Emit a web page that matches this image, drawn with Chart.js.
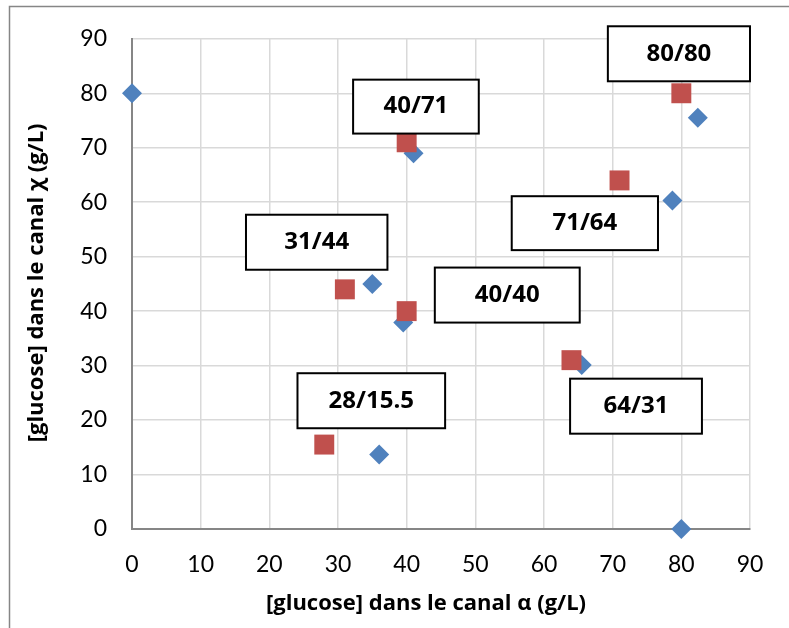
<!DOCTYPE html>
<html>
<head>
<meta charset="utf-8">
<script src="https://cdn.jsdelivr.net/npm/chart.js@4.4.1/dist/chart.umd.min.js"></script>
<style>
  body { margin: 0; background: #fff; }
  canvas { display: block; }
</style>
</head>
<body>
<canvas id="glucoseChart" width="789" height="628"></canvas>
<script>
// DATA
// blue diamonds (measured)
const alphaMeasured = [0, 41, 35, 39.5, 36, 65.5, 78.7, 82.4, 80];
const chiMeasured = [80, 69, 45, 37.9, 13.7, 30.1, 60.3, 75.5, 0];

// red squares (targets)
const alphaTarget = [40, 31, 40, 28, 64, 71, 80];
const chiTarget = [71, 44, 40, 15.5, 31, 64, 80];
const pointLabels = ['40/71', '31/44', '40/40', '28/15.5', '64/31', '71/64', '80/80'];

// axis ticks
const axisMin = 0;
const axisMax = 90;
const axisStep = 10;

// axis titles
const xTitle = '[glucose] dans le canal α (g/L)';
const yTitle = '[glucose] dans le canal χ (g/L)';

// label box extents in data units: [x left, x right, y top, y bottom]
const labelBoxes = [
    [32.2, 50.5, 82.5, 72.6],
    [16.6, 37.2, 57.7, 47.6],
    [44.1, 65.2, 48.0, 37.9],
    [24.1, 45.6, 28.6, 18.5],
    [63.8, 83.0, 27.6, 17.5],
    [55.3, 76.6, 61.1, 51.2],
    [69.3, 90.0, 92.3, 82.2]
];

const boldFont = '"Open Sans", "DejaVu Sans", sans-serif';
const tickFont = 'Lato, "Open Sans", sans-serif';

function toPoints(xs, ys) {
    return xs.map((x, i) => ({ x: x, y: ys[i] }));
}

// white background + grey chart frame (cut by the right/bottom edges)
const framePlugin = {
    id: 'frame',
    beforeDraw(chart) {
        const ctx = chart.ctx;
        ctx.save();
        ctx.fillStyle = '#fff';
        ctx.fillRect(0, 0, chart.width, chart.height);
        ctx.strokeStyle = '#868686';
        ctx.lineWidth = 1.5;
        ctx.strokeRect(9.5, 6.5, chart.width + 20, chart.height + 20);
        ctx.restore();
    }
};

// axis titles (the x title sits a bit left of the plot centre, like Excel)
const titlePlugin = {
    id: 'axisTitles',
    afterDraw(chart) {
        const ctx = chart.ctx;
        const area = chart.chartArea;
        ctx.save();
        ctx.fillStyle = '#000';
        ctx.font = 'bold 22px ' + boldFont;
        ctx.textAlign = 'center';
        ctx.textBaseline = 'middle';
        ctx.fillText(xTitle, 426, 604);
        ctx.translate(37, (area.top + area.bottom) / 2 - 1);
        ctx.rotate(-Math.PI / 2);
        ctx.fillText(yTitle, 0, 0);
        ctx.restore();
    }
};

// boxed labels next to the red squares
const labelBoxPlugin = {
    id: 'labelBoxes',
    afterDatasetsDraw(chart) {
        const ctx = chart.ctx;
        const xs = chart.scales.x;
        const ys = chart.scales.y;
        ctx.save();
        pointLabels.forEach((txt, i) => {
            const b = labelBoxes[i];
            const left = xs.getPixelForValue(b[0]);
            const right = xs.getPixelForValue(b[1]);
            const top = ys.getPixelForValue(b[2]);
            const bottom = ys.getPixelForValue(b[3]);
            ctx.fillStyle = '#fff';
            ctx.fillRect(left, top, right - left, bottom - top);
            ctx.strokeStyle = '#000';
            ctx.lineWidth = 2;
            ctx.strokeRect(left, top, right - left, bottom - top);
            ctx.fillStyle = '#000';
            ctx.font = 'bold 24px ' + boldFont;
            ctx.textAlign = 'center';
            ctx.textBaseline = 'middle';
            ctx.fillText(txt, (left + right) / 2, (top + bottom) / 2);
        });
        ctx.restore();
    }
};

const ctx = document.getElementById('glucoseChart').getContext('2d');
new Chart(ctx, {
    type: 'scatter',
    data: {
        datasets: [
            {
                label: 'cible',
                data: toPoints(alphaTarget, chiTarget),
                pointStyle: 'rect',
                pointRadius: 14.1,
                pointHoverRadius: 14.1,
                backgroundColor: '#c0504d',
                borderWidth: 0,
                clip: false
            },
            {
                label: 'mesure',
                data: toPoints(alphaMeasured, chiMeasured),
                pointStyle: 'rectRot',
                pointRadius: 10,
                pointHoverRadius: 10,
                backgroundColor: '#4f81bd',
                borderWidth: 0,
                clip: false
            }
        ]
    },
    options: {
        responsive: false,
        animation: false,
        layout: {
            padding: { left: 0, right: 39, top: 37, bottom: 0 }
        },
        plugins: {
            legend: { display: false },
            tooltip: { enabled: false }
        },
        scales: {
            x: {
                type: 'linear',
                min: axisMin,
                max: axisMax,
                ticks: {
                    stepSize: axisStep,
                    padding: 22,
                    color: '#000',
                    font: { family: tickFont, size: 23 }
                },
                grid: { color: '#d9d9d9', lineWidth: 1.5, drawTicks: false },
                border: { color: '#868686', width: 2 },
                afterFit(scale) {
                    scale.height = 99;
                }
            },
            y: {
                type: 'linear',
                min: axisMin,
                max: axisMax,
                ticks: {
                    stepSize: axisStep,
                    padding: 25,
                    color: '#000',
                    font: { family: tickFont, size: 23 }
                },
                grid: { color: '#d9d9d9', lineWidth: 1.5, drawTicks: false },
                border: { color: '#868686', width: 2 },
                afterFit(scale) {
                    scale.width = 132;
                }
            }
        }
    },
    plugins: [framePlugin, labelBoxPlugin, titlePlugin]
});
</script>
</body>
</html>
